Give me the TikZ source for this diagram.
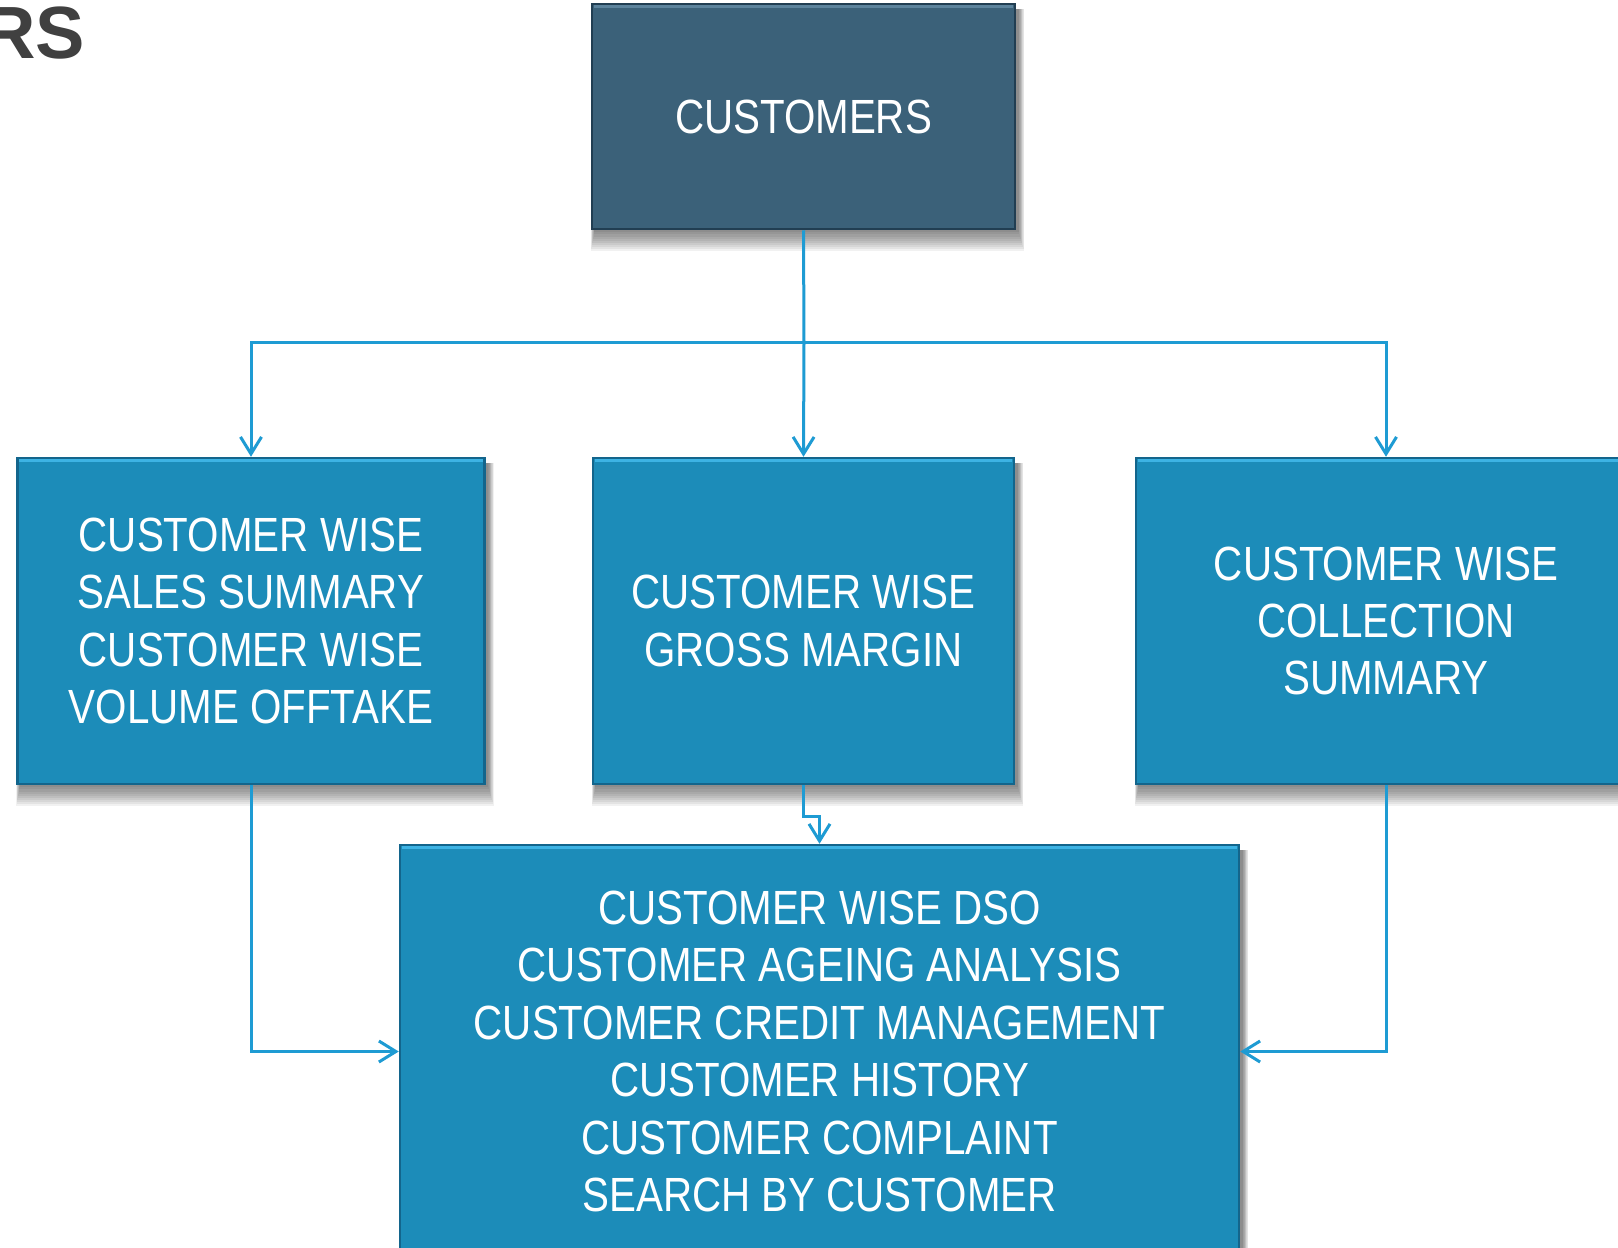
\documentclass[tikz,border=0pt]{standalone}
\usepackage{fontspec}
\setmainfont{Liberation Sans}[FakeStretch=0.84]
\newfontfamily\titlefont{Liberation Sans}
\usetikzlibrary{arrows.meta}
\pgfdeclarelayer{background}
\pgfsetlayers{background,main}
\definecolor{boxblue}{HTML}{1C8CB9}
\definecolor{boxdark}{HTML}{13658C}
\definecolor{boxlight}{HTML}{3DB3E4}
\definecolor{topblue}{HTML}{3B6179}
\definecolor{topdark}{HTML}{213E52}
\definecolor{toplight}{HTML}{5C839C}
\definecolor{connblue}{HTML}{1E9BD3}
\definecolor{titlegray}{HTML}{404040}
\tikzset{
  boxbase/.style={rectangle, inner sep=0pt, line width=2.5pt, text=white, align=center,
    font=\fontsize{48}{57.4}\selectfont},
  subbox/.style={boxbase, fill=boxblue, draw=boxdark},
  headbox/.style={boxbase, fill=topblue, draw=topdark},
  conn/.style={draw=connblue, line width=3pt},
  arr/.style={conn, -{Straight Barb[length=17pt,width=21pt]}},
  lightedge/.style={line width=3pt, line cap=butt},
  shadowstep/.style={fill=black, fill opacity=0.055, draw=none}
}
\begin{document}
\begin{tikzpicture}[x=1pt,y=-1pt]
\useasboundingbox (0,0) rectangle (1618,1248);
\clip (0,0) rectangle (1618,1248);

\node[anchor=base east, inner sep=0pt, text=titlegray, font=\titlefont\bfseries\fontsize{74}{80}\selectfont] (title) at (85,58) {RS};

\node[headbox, minimum width=423pt, minimum height=225pt] (cust) at (803.5,116.5) {CUSTOMERS};
\node[subbox, minimum width=467pt, minimum height=326pt] (b1) at (251,621) {CUSTOMER WISE\\SALES SUMMARY\\CUSTOMER WISE\\VOLUME OFFTAKE};
\node[subbox, minimum width=421pt, minimum height=326pt] (b2) at (803.5,621) {CUSTOMER WISE\\GROSS MARGIN};
\node[subbox, minimum width=500pt, minimum height=326pt] (b3) at (1386,621) {CUSTOMER WISE\\COLLECTION\\SUMMARY};
\node[subbox, minimum width=839pt, minimum height=413pt] (bot) at (819.5,1051.5) {CUSTOMER WISE DSO\\CUSTOMER AGEING ANALYSIS\\CUSTOMER CREDIT MANAGEMENT\\CUSTOMER HISTORY\\CUSTOMER COMPLAINT\\SEARCH BY CUSTOMER};

\begin{pgfonlayer}{background}
\fill[white] (0,0) rectangle (1618,1248);
\foreach \n in {cust,b1,b2,b3,bot}{
  \foreach \i in {1,...,10}{
    \fill[shadowstep] ([shift={(4-0.4*\i,6)}]\n.north west) rectangle ([shift={(2+0.6*\i,2.1*\i)}]\n.south east);
  }
}
\end{pgfonlayer}

\foreach \n/\c in {cust/toplight,b1/boxlight,b2/boxlight,b3/boxlight,bot/boxlight}{
  \draw[lightedge, draw=\c] ([shift={(3,3.5)}]\n.north west) -- ([shift={(-3,3.5)}]\n.north east);
}

\coordinate (j) at (804,342.6);
\draw[conn] (cust.south) -- (j);
\draw[arr] (j) -| (b1.north);
\draw[arr] (j) -| (b3.north);
\draw[arr] (j) -- (b2.north);
\draw[arr] (b2.south) -- ++(0,31) -| (bot.north);
\draw[arr] (b1.south) |- (bot.west);
\draw[arr] (b3.south) |- (bot.east);
\end{tikzpicture}
\end{document}
